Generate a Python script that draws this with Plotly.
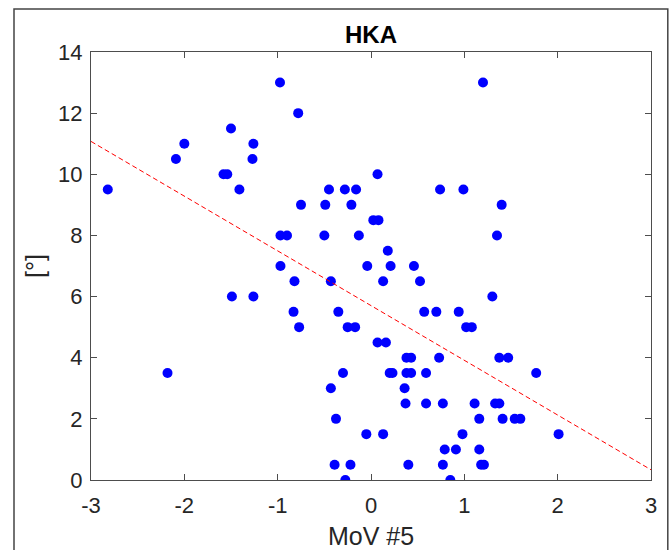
import numpy as np
import plotly.graph_objects as go

# Scatter data (MoV #5 vs HKA angle)
mov5 = [-2.82, -2.18, -2.09, -2.00, -1.58, -1.54, -1.50, -1.49, -1.41, -1.27,
        -1.26, -1.26, -0.975, -0.97, -0.90, -0.97, -0.83, -0.82, -0.78, -0.75,
        -0.77, -0.49, -0.50, -0.45, -0.43, -0.43, -0.39, -0.375, -0.35, -0.30,
        -0.28, -0.275, -0.25, -0.22, -0.21, -0.17, -0.16, -0.13, -0.05, -0.04,
        0.025, 0.07, 0.08, 0.07, 0.13, 0.13, 0.16, 0.18, 0.20, 0.21,
        0.23, 0.36, 0.37, 0.38, 0.43, 0.38, 0.43, 0.40, 0.46, 0.525,
        0.57, 0.59, 0.59, 0.70, 0.73, 0.74, 0.77, 0.77, 0.79, 0.85,
        0.91, 0.94, 0.98, 0.99, 1.02, 1.08, 1.11, 1.16, 1.16, 1.18,
        1.21, 1.20, 1.30, 1.35, 1.40, 1.33, 1.375, 1.375, 1.47, 1.41,
        1.54, 1.60, 1.77, 2.01]
hka = [9.5, 3.5, 10.5, 11.0, 10.0, 10.0, 11.5, 6.0, 9.5, 10.5,
       11.0, 6.0, 13.0, 8.0, 8.0, 7.0, 5.5, 6.5, 12.0, 9.0,
       5.0, 9.0, 8.0, 9.5, 6.5, 3.0, 0.5, 2.0, 5.5, 3.5,
       9.5, 0.0, 5.0, 0.5, 9.0, 5.0, 9.5, 8.0, 1.5, 7.0,
       8.5, 10.0, 8.5, 4.5, 6.5, 1.5, 4.5, 7.5, 3.5, 7.0,
       3.5, 3.0, 2.5, 4.0, 4.0, 3.5, 3.5, 0.5, 7.0, 6.5,
       5.5, 3.5, 2.5, 5.5, 4.0, 9.5, 2.5, 0.5, 1.0, 0.0,
       1.0, 5.5, 1.5, 9.5, 5.0, 5.0, 2.5, 2.0, 1.0, 0.5,
       0.5, 13.0, 6.0, 8.0, 9.0, 2.5, 2.5, 4.0, 4.0, 2.0,
       2.0, 2.0, 3.5, 1.5]

# Regression line parameters
fit_slope = -1.79
fit_intercept = 5.705
fit_x = [-3, 3]

x_ticks = [-3, -2, -1, 0, 1, 2, 3]
y_ticks = [0, 2, 4, 6, 8, 10, 12, 14]

fit_y = [fit_slope * v + fit_intercept for v in fit_x]

FONT = "Liberation Sans, Arial, sans-serif"
AX = "#4d4d4d"

fig = go.Figure()
fig.add_trace(go.Scatter(
    x=mov5, y=hka, mode="markers",
    marker=dict(color="#0000ff", size=10, line=dict(width=0)),
    showlegend=False, hoverinfo="x+y"))
fig.add_trace(go.Scatter(
    x=fit_x, y=fit_y, mode="lines",
    line=dict(color="#ff0000", width=1, dash="5px,3px"),
    showlegend=False, hoverinfo="skip"))

axis_common = dict(
    showgrid=False, zeroline=False, showline=True, linecolor=AX, linewidth=1,
    mirror="ticks", ticks="inside", ticklen=6, tickcolor=AX, tickwidth=1,
    tickfont=dict(family=FONT, size=22, color="#262626"),
)

fig.update_layout(
    width=669, height=550,
    margin=dict(l=91, r=18, t=52, b=70),
    paper_bgcolor="white", plot_bgcolor="white",
    xaxis=dict(range=[-3, 3], tickvals=x_ticks, ticktext=[str(v) for v in x_ticks],
               ticklabelstandoff=6, **axis_common),
    yaxis=dict(range=[0, 14], tickvals=y_ticks, ticktext=[str(v) for v in y_ticks],
               ticklabelstandoff=3, **axis_common),
    annotations=[
        dict(text="<b>HKA</b>", xref="paper", yref="paper", x=0.5, y=1.042,
             xanchor="center", yanchor="middle", showarrow=False,
             font=dict(family=FONT, size=24, color="black")),
        dict(text="MoV #5", xref="paper", yref="paper", x=0.5, y=-0.131,
             xanchor="center", yanchor="middle", showarrow=False,
             font=dict(family=FONT, size=25, color="#262626")),
        dict(text="[°]", xref="paper", yref="paper", x=-0.1, y=0.5,
             xanchor="center", yanchor="middle", showarrow=False, textangle=-90,
             font=dict(family=FONT, size=25, color="#262626")),
    ],
    shapes=[
        dict(type="rect", xref="paper", yref="paper",
             x0=-0.1375, x1=1.030, y0=-0.3, y1=1.1005,
             line=dict(color="#444444", width=1.5), layer="below"),
    ],
)

fig.write_html("out.html",
               config={"displayModeBar": False},
               post_script="document.body.style.margin='0';document.body.style.padding='0';")
